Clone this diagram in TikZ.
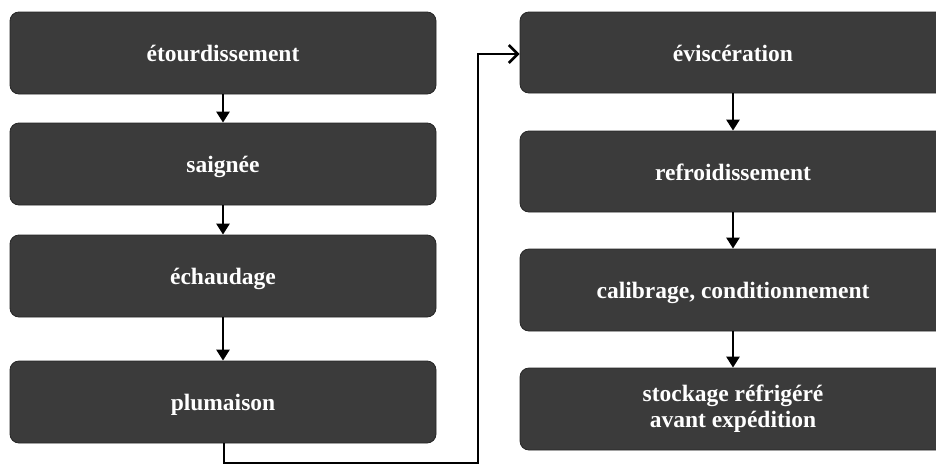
\documentclass[tikz,border=0pt]{standalone}
\usepackage{fontspec}
\setmainfont{Liberation Serif}
\usetikzlibrary{arrows.meta}
\definecolor{boxfill}{HTML}{3B3B3B}
\definecolor{boxedge}{HTML}{262626}
\begin{document}
\begin{tikzpicture}[x=1pt,y=-1pt,
  stepbox/.style={draw=boxedge, line width=0.8pt, fill=boxfill, rounded corners=9pt,
    minimum width=426pt, text=white, align=center,
    font=\fontsize{23.5}{26}\selectfont\bfseries, inner sep=0pt},
  oneline/.style={text height=17pt, text depth=0pt},
  flow/.style={line width=2.6pt, -{Triangle[length=11pt,width=13pt]}},
  link/.style={line width=2.6pt, -{Straight Barb[length=9pt,width=18pt,line width=2.6pt]}}]
\clip (0,0) rectangle (936,466);
\fill[white] (0,0) rectangle (936,466);
% left column
\node[stepbox, oneline, minimum height=82pt] (a) at (223,53) {étourdissement};
\node[stepbox, oneline, minimum height=82pt] (b) at (223,164) {saignée};
\node[stepbox, oneline, minimum height=82pt] (c) at (223,276) {échaudage};
\node[stepbox, oneline, minimum height=82pt] (d) at (223,402) {plumaison};
% right column
\node[stepbox, oneline, minimum height=81pt] (e) at (733,52.5) {éviscération};
\node[stepbox, oneline, minimum height=81pt] (f) at (733,171.5) {refroidissement};
\node[stepbox, oneline, minimum height=82pt] (g) at (733,290) {calibrage, conditionnement};
\node[stepbox, minimum height=82pt] (h) at (733,409) {stockage réfrigéré\\avant expédition};
% vertical links
\draw[flow] (a.south) -- (b.north);
\draw[flow] (b.south) -- (c.north);
\draw[flow] (c.south) -- (d.north);
\draw[flow] (e.south) -- (f.north);
\draw[flow] (f.south) -- (g.north);
\draw[flow] (g.south) -- (h.north);
% return path from the left column to the right one
\coordinate (p1) at (224,463);
\coordinate (p2) at (478,463);
\coordinate (p3) at (478,54);
\draw[link] (d.south -| p1) -- (p1) -- (p2) -- (p3) -- (e.west |- p3);
\end{tikzpicture}
\end{document}
